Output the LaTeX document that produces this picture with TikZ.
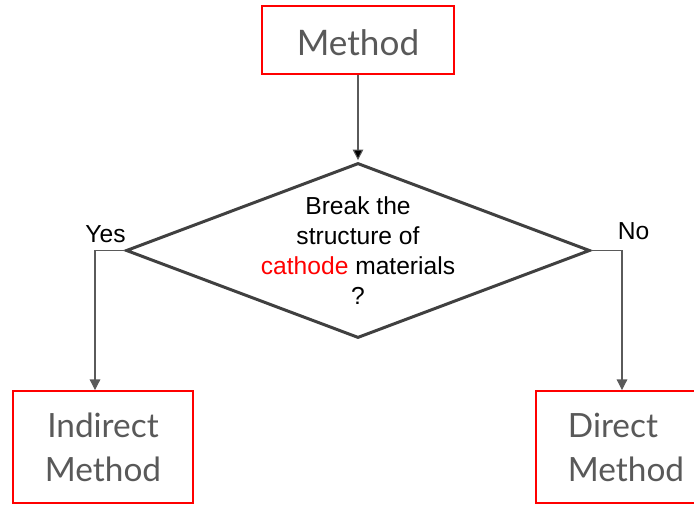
\documentclass[tikz,border=0pt]{standalone}
\usepackage{fontspec}
\setmainfont{Liberation Sans}
\newfontfamily\latofont{Lato}
\usetikzlibrary{arrows.meta,shapes.geometric}
\definecolor{boxgrey}{HTML}{595959}
\definecolor{linegrey}{HTML}{5A5A5A}
\definecolor{edgedark}{HTML}{404040}

\begin{document}
\begin{tikzpicture}[>={Triangle[length=6pt,width=6pt]},node distance=4.21cm,
    method/.style={draw=red,line width=1.1pt,inner sep=0pt,align=center,
        text=boxgrey,font=\latofont\fontsize{19}{25}\selectfont},
    decision/.style={diamond,draw=edgedark,line width=1.7pt,inner xsep=-0.4cm,inner ysep=-0.2cm,
        shape aspect=2.65,minimum width=9.28cm,minimum height=3.5cm,align=center,
        font=\fontsize{14}{17}\selectfont},
    link/.style={->,draw=linegrey,line width=0.6pt}]
    \useasboundingbox (0,0) rectangle (13.88,-10.1);

    \node[method, minimum width=3.84cm, minimum height=1.36cm, text height=18pt, text depth=0pt,
        font=\latofont\fontsize{20}{24}\selectfont] (meth) at (7.16,-0.8) {Method};
    \node[decision] (dec) [below of=meth] {Break the\\structure of\\{\color{red}cathode} materials\\?};
    \node[method, minimum width=3.6cm, minimum height=2.24cm] (ind) at (2.06,-8.94) {Indirect\\Method};
    \node[method, minimum width=3.6cm, minimum height=2.24cm, align=left] (dir) at (12.52,-8.94) {Direct\\Method};

    \path[link] (meth) edge ([yshift=0.8pt]dec.north);
    \draw[link] (dec.west) -| ([xshift=-0.16cm]ind.north);
    \draw[link] (dec.east) -| ([xshift=-0.08cm]dir.north);

    \node[font=\fontsize{14}{16}\selectfont] (yes) at ([shift={(-0.38,0.32)}]dec.west) {Yes};
    \node[font=\fontsize{14}{16}\selectfont] (no) at ([shift={(0.84,0.38)}]dec.east) {No};
\end{tikzpicture}
\end{document}
